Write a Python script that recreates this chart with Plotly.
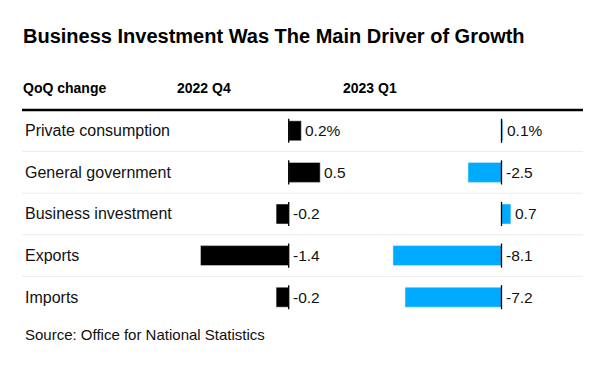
import plotly.graph_objects as go

W, H = 601, 367
OX, OY = 8, 8  # page body margin offset

categories = ["Private consumption", "General government", "Business investment", "Exports", "Imports"]
q4_2022 = [0.2, 0.5, -0.2, -1.4, -0.2]
q1_2023 = [0.1, -2.5, 0.7, -8.1, -7.2]
col_headers = ["2022 Q4", "2023 Q1"]
title = "Business Investment Was The Main Driver of Growth"
row_header = "QoQ change"
source = "Source: Office for National Statistics"

BLUE = "#00aaff"
FONT = "Liberation Sans, Arial, sans-serif"
TXT = "#111111"

FW, FH = W - OX, H - OY


def px(x):
    return (x - OX) / FW


def py(y):
    return 1 - (y - OY) / FH


idx = list(range(len(categories)))
ROW_TOP, ROW_H = 110, 41.6
y_bot = ROW_TOP + ROW_H * len(categories)

fig = go.Figure()
fig.add_trace(go.Bar(x=q4_2022, y=idx, orientation="h", marker_color="#000000",
                     width=0.48, xaxis="x", yaxis="y", hoverinfo="skip"))
fig.add_trace(go.Bar(x=q1_2023, y=idx, orientation="h", marker_color=BLUE,
                     width=0.48, xaxis="x2", yaxis="y", hoverinfo="skip"))

# axis pixel mapping (screen pixels)
z1, s1 = 288.7, 63.0
z2, s2 = 501.5, 13.4
a1 = (150, 345)
a2 = (365, 590)

fig.update_layout(
    width=FW, height=FH,
    margin=dict(l=0, r=0, t=0, b=0),
    paper_bgcolor="white", plot_bgcolor="rgba(0,0,0,0)",
    showlegend=False,
    barmode="overlay",
    xaxis=dict(domain=[px(a1[0]), px(a1[1])],
               range=[(a1[0] - z1) / s1, (a1[1] - z1) / s1],
               visible=False, fixedrange=True),
    xaxis2=dict(domain=[px(a2[0]), px(a2[1])],
                range=[(a2[0] - z2) / s2, (a2[1] - z2) / s2],
                visible=False, fixedrange=True, anchor="y"),
    yaxis=dict(domain=[py(y_bot), py(ROW_TOP)],
               range=[len(categories) - 0.5, -0.5],
               visible=False, fixedrange=True),
)

shapes = []
shapes.append(dict(type="line", xref="paper", yref="paper",
                   x0=px(22), x1=px(583), y0=py(ROW_TOP), y1=py(ROW_TOP),
                   line=dict(color="#000000", width=2.5)))
for i in idx[:-1]:
    yy = i + 0.5
    shapes.append(dict(type="line", xref="paper", yref="y",
                       x0=px(22), x1=px(583), y0=yy, y1=yy,
                       line=dict(color="#ececec", width=1)))
for xr in ("x", "x2"):
    for i in idx:
        shapes.append(dict(type="line", xref=xr, yref="y",
                           x0=0, x1=0, y0=i - 0.29, y1=i + 0.29,
                           line=dict(color="#000000", width=1.3)))

ann = []
ann.append(dict(text="<b>" + title + "</b>", xref="paper", yref="paper",
                x=px(21), y=py(36), xanchor="left", yanchor="middle",
                showarrow=False, font=dict(family=FONT, size=20, color="#000000")))
ann.append(dict(text="<b>" + row_header + "</b>", xref="paper", yref="paper",
                x=px(21), y=py(88), xanchor="left", yanchor="middle",
                showarrow=False, font=dict(family=FONT, size=14, color="#000000")))
for hx, h in zip((175, 341), col_headers):
    ann.append(dict(text="<b>" + h + "</b>", xref="paper", yref="paper",
                    x=px(hx), y=py(88), xanchor="left", yanchor="middle",
                    showarrow=False, font=dict(family=FONT, size=14, color="#000000")))
for i, c in zip(idx, categories):
    ann.append(dict(text=c, xref="paper", yref="y", x=px(23), y=i,
                    xanchor="left", yanchor="middle", showarrow=False,
                    font=dict(family=FONT, size=16, color=TXT)))

for xr, vals in (("x", q4_2022), ("x2", q1_2023)):
    for i, v in zip(idx, vals):
        label = f"{v:.1f}" + ("%" if i == 0 else "")
        ann.append(dict(text=label, xref=xr, yref="y", x=max(v, 0), y=i,
                        xanchor="left", yanchor="middle", xshift=2,
                        showarrow=False,
                        font=dict(family=FONT, size=15.5, color=TXT)))

ann.append(dict(text=source, xref="paper", yref="paper",
                x=px(23), y=py(334), xanchor="left", yanchor="middle",
                showarrow=False, font=dict(family=FONT, size=15, color=TXT)))

fig.update_layout(shapes=shapes, annotations=ann)
fig.write_html("out.html")
